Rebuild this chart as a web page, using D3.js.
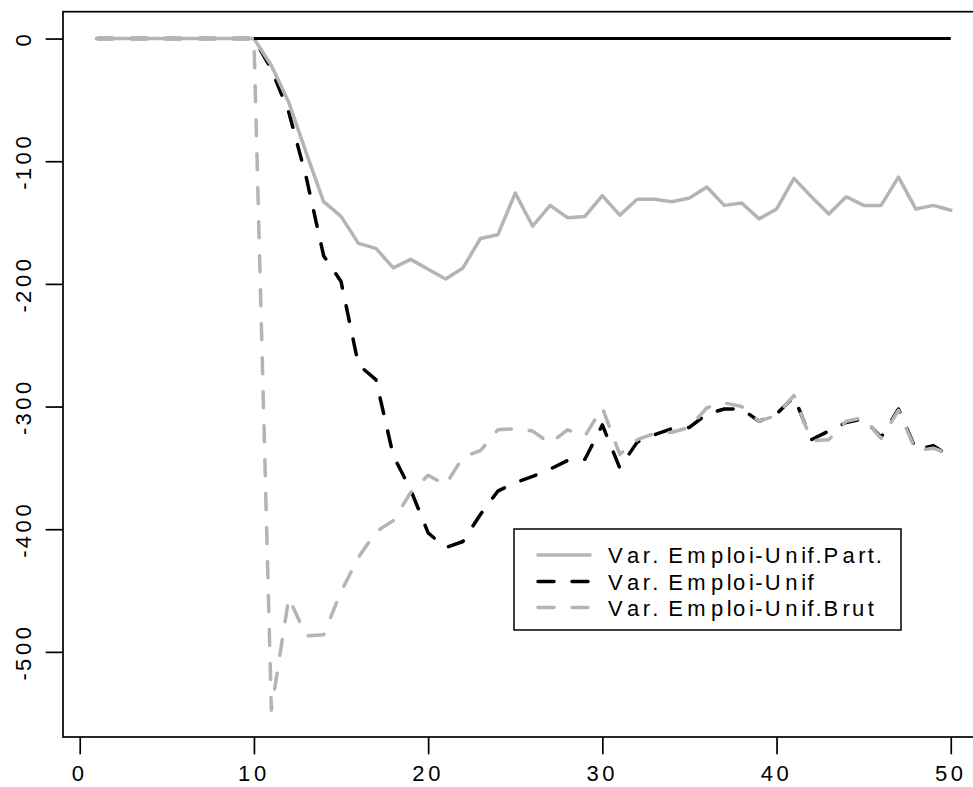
<!DOCTYPE html>
<html><head><meta charset="utf-8">
<script src="https://cdn.jsdelivr.net/npm/d3@7/dist/d3.min.js"></script>
<style>html,body{margin:0;padding:0;background:#fff;} svg{display:block}</style>
</head><body>
<svg id="chart" width="973" height="787"></svg>
<script>
// ---- data ----
const periods = [1,2,3,4,5,6,7,8,9,10,11,12,13,14,15,16,17,18,19,20,21,22,23,24,25,26,27,28,29,30,31,32,33,34,35,36,37,38,39,40,41,42,43,44,45,46,47,48,49,50];
const emploiUnifPart = [0,0,0,0,0,0,0,0,0,0,
  -22,-52,-93,-133,-145,-167,-171,-187,-180,-188,
  -196,-187,-163,-160,-126,-153,-136,-146,-145,-128,
  -144,-131,-131,-133,-130,-121,-136,-134,-147,-139,
  -114,-129,-143,-129,-136,-136,-113,-139,-136,-140];
const emploiUnif = [0,0,0,0,0,0,0,0,0,0,
  -25,-60,-113,-177,-198,-266,-278,-340,-368,-403,
  -415,-410,-388,-369,-362,-357,-351,-344,-343,-315,
  -350,-329,-323,-318,-317,-306,-302,-302,-312,-306,
  -292,-327,-320,-313,-310,-325,-302,-335,-332,-341];
const emploiUnifBrut = [0,0,0,0,0,0,0,0,0,0,
  -547.5,-456,-487,-486,-451,-423,-402,-393,-370,-356,
  -364,-341,-336,-319,-318,-320,-330,-319,-324,-301,
  -339,-327,-322,-321,-317,-301,-297,-300,-312,-307,
  -291,-328,-327,-312,-309,-326,-303,-336,-334,-339];
const zeroLineX = [10, 50];
const zeroLineY = [0, 0];
const xTicks = [0, 10, 20, 30, 40, 50];
const yTicks = [0, -100, -200, -300, -400, -500];
const legendLabels = ["Var. Emploi-Unif.Part.", "Var. Emploi-Unif", "Var. Emploi-Unif.Brut"];

// ---- layout ----
const GRAY = "#b4b4b4";
const svg = d3.select("#chart");
const plotL = 63, plotR = 984.9, plotT = 11.7, plotB = 737;
const x = d3.scaleLinear().domain([-0.96, 51.96]).range([plotL, plotR]);
const y = d3.scaleLinear().domain([-569.4, 21.9]).range([plotB, plotT]);

// text with wide advances but smaller glyphs (as in the reference rendering)
const cv = document.createElement("canvas").getContext("2d");
const ADV = 28.5, GLYPH = 22, FONT = '"Liberation Sans", Arial, sans-serif';
cv.font = ADV + 'px "Liberation Sans"';
function spacedText(g, str, anchor) {
  const w = [...str].map(c => cv.measureText(c).width);
  const total = d3.sum(w);
  let pos = anchor === "middle" ? -total / 2 : 0;
  const xs = [];
  w.forEach(v => { xs.push(pos.toFixed(2)); pos += v; });
  return g.append("text").attr("x", xs.join(" ")).attr("y", 0)
    .attr("font-family", FONT).attr("font-size", GLYPH).attr("fill", "#000")
    .text(str);
}

// ---- series ----
const line = d3.line().x((d, i) => x(periods[i])).y(d => y(d));
const lw = 3.5;
svg.append("path").datum(emploiUnif).attr("d", line)
  .attr("fill", "none").attr("stroke", "#000").attr("stroke-width", lw)
  .attr("stroke-dasharray", "16,18").attr("stroke-linecap", "round").attr("stroke-linejoin", "round");
svg.append("path").datum(emploiUnifPart).attr("d", line)
  .attr("fill", "none").attr("stroke", GRAY).attr("stroke-width", lw)
  .attr("stroke-linecap", "round").attr("stroke-linejoin", "round");
svg.append("path").datum(emploiUnifBrut).attr("d", line)
  .attr("fill", "none").attr("stroke", GRAY).attr("stroke-width", lw)
  .attr("stroke-dasharray", "16,18").attr("stroke-linecap", "round").attr("stroke-linejoin", "round");
const zl = d3.line().x((d, i) => x(zeroLineX[i])).y(d => y(d));
svg.append("path").datum(zeroLineY).attr("d", zl)
  .attr("fill", "none").attr("stroke", "#000").attr("stroke-width", 3)
  .attr("stroke-linecap", "butt");

// ---- box ----
svg.append("rect").attr("x", plotL).attr("y", plotT)
  .attr("width", plotR - plotL).attr("height", plotB - plotT)
  .attr("fill", "none").attr("stroke", "#000").attr("stroke-width", 1.7);

// ---- axes ----
const tickLen = 17.3;
const gx = svg.append("g").attr("transform", `translate(0,${plotB})`)
  .call(d3.axisBottom(x).tickValues(xTicks).tickSize(tickLen).tickSizeOuter(0).tickFormat(""));
gx.select(".domain").remove();
gx.selectAll(".tick line").attr("stroke", "#000").attr("stroke-width", 1.7);
xTicks.forEach(t => {
  const g = svg.append("g").attr("transform", `translate(${x(t)},781)`);
  spacedText(g, String(t), "middle");
});

const gy = svg.append("g").attr("transform", `translate(${plotL},0)`)
  .call(d3.axisLeft(y).tickValues(yTicks).tickSize(tickLen).tickSizeOuter(0).tickFormat(""));
gy.select(".domain").remove();
gy.selectAll(".tick line").attr("stroke", "#000").attr("stroke-width", 1.7);
yTicks.forEach(t => {
  const g = svg.append("g").attr("transform", `translate(31,${y(t)}) rotate(-90)`);
  spacedText(g, String(t), "middle");
});

// ---- legend ----
const leg = svg.append("g");
leg.append("rect").attr("x", 514).attr("y", 529).attr("width", 387).attr("height", 101)
  .attr("fill", "#fff").attr("stroke", "#000").attr("stroke-width", 1.5);
const legStyles = [
  {stroke: GRAY, dash: null},
  {stroke: "#000", dash: "16,18"},
  {stroke: GRAY, dash: "16,18"}
];
const rowY = [555, 581.5, 607.5];
legendLabels.forEach((lab, i) => {
  const ly = rowY[i];
  const ln = leg.append("line").attr("x1", 538).attr("x2", 590).attr("y1", ly).attr("y2", ly)
    .attr("stroke", legStyles[i].stroke).attr("stroke-width", lw).attr("stroke-linecap", "round");
  if (legStyles[i].dash) ln.attr("stroke-dasharray", legStyles[i].dash);
  const g = leg.append("g").attr("transform", `translate(608,${ly + 8})`);
  spacedText(g, lab, "start");
});
</script>
</body></html>
